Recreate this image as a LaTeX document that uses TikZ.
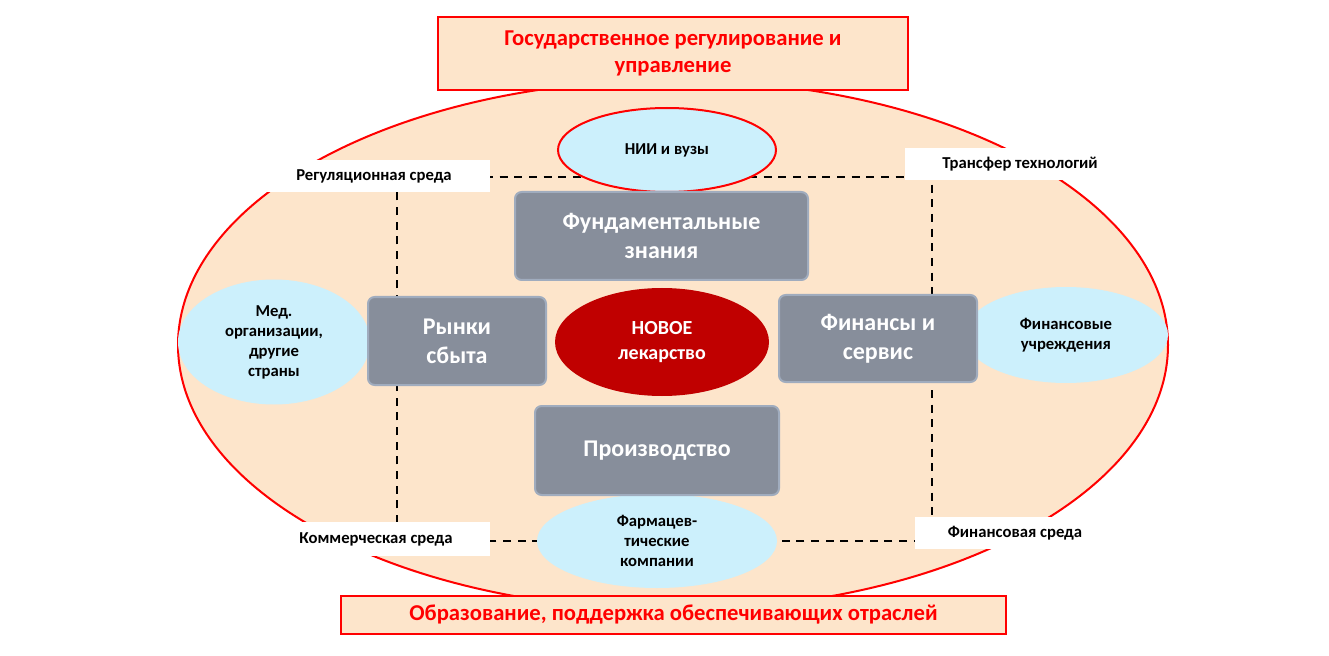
\documentclass[tikz,border=0pt]{standalone}
\usepackage{fontspec}
\setmainfont{Carlito}
\begin{document}
\begin{tikzpicture}[x=0.75pt,y=-0.75pt,
  peach/.style={fill={rgb,255:red,253;green,229;blue,203}},
  redbox/.style={peach,draw=red,line width=1.5pt,align=center,font=\bfseries\fontsize{17}{20}\selectfont,text=red,inner sep=0pt},
  gbox/.style={draw={rgb,255:red,160;green,172;blue,190},line width=1.5pt,fill={rgb,255:red,135;green,142;blue,155},rounded corners=5pt,text=white,align=center,font=\bfseries\fontsize{18}{22}\selectfont,inner sep=0pt},
  bell/.style={ellipse,fill={rgb,255:red,204;green,240;blue,252},draw=none,align=center,font=\bfseries\fontsize{12.5}{15}\selectfont,inner sep=0pt},
  lab/.style={fill=white,font=\bfseries\fontsize{12.5}{15}\selectfont,inner sep=0pt},
  dl/.style={dashed,line width=1.3pt,dash pattern=on 6pt off 5pt}]
\usetikzlibrary{shapes.geometric}
\useasboundingbox (0,0) rectangle (1329,656);
\draw[peach,draw=red,line width=1.5pt] (673,345) ellipse [x radius=495,y radius=265];
% dashed frame
\coordinate (tl) at (397,177); \coordinate (tr) at (932,177);
\coordinate (bl) at (397,541); \coordinate (br) at (932,541);
\draw[dl] (tl) -- (tr) -- (br) -- (bl) -- cycle;
\node[redbox,minimum width=470*0.75pt,minimum height=73*0.75pt] (top) at (673,53.5) {Государственное регулирование и\\управление};
\node[redbox,minimum width=665*0.75pt,minimum height=38*0.75pt] (bot) at (673.5,615) {Образование, поддержка обеспечивающих отраслей};
\node[lab,minimum width=232*0.75pt,minimum height=32*0.75pt] (l1) at (374,176) {Регуляционная среда};
\node[lab,minimum width=230*0.75pt,minimum height=32*0.75pt] (l2) at (1020,164) {Трансфер технологий};
\node[lab,minimum width=228*0.75pt,minimum height=34*0.75pt] (l3) at (376,539) {Коммерческая среда};
\node[lab,minimum width=200*0.75pt,minimum height=32*0.75pt] (l4) at (1015,533) {Финансовая среда};
\node[bell,draw=red,line width=1.5pt,minimum width=218*0.75pt,minimum height=84*0.75pt] (nii) at (667,150) {НИИ и вузы};
\node[bell,minimum width=192*0.75pt,minimum height=125*0.75pt] (med) at (274,342) {Мед.\\организации,\\другие\\страны};
\node[bell,minimum width=204*0.75pt,minimum height=96*0.75pt] (fin) at (1066,335) {Финансовые\\учреждения};
\node[bell,minimum width=240*0.75pt,minimum height=94*0.75pt] (ph) at (657,541) {Фармацев-\\тические\\компании};
\node[gbox,minimum width=293*0.75pt,minimum height=88*0.75pt] (fund) at (661.5,236) {Фундаментальные\\знания};
\node[gbox,minimum width=178*0.75pt,minimum height=88*0.75pt] (ryn) at (457,341) {Рынки\\сбыта};
\node[gbox,minimum width=198*0.75pt,minimum height=87*0.75pt] (fs) at (878,338.5) {Финансы и\\сервис};
\node[gbox,minimum width=244*0.75pt,minimum height=89*0.75pt] (pr) at (657,450.5) {Производство};
\node[ellipse,fill={rgb,255:red,192;green,0;blue,0},minimum width=214*0.75pt,minimum height=108*0.75pt,inner sep=0pt,text=white,align=center,font=\bfseries\fontsize{15}{19}\selectfont] (new) at (662,342) {НОВОЕ\\лекарство};
\end{tikzpicture}
\end{document}
